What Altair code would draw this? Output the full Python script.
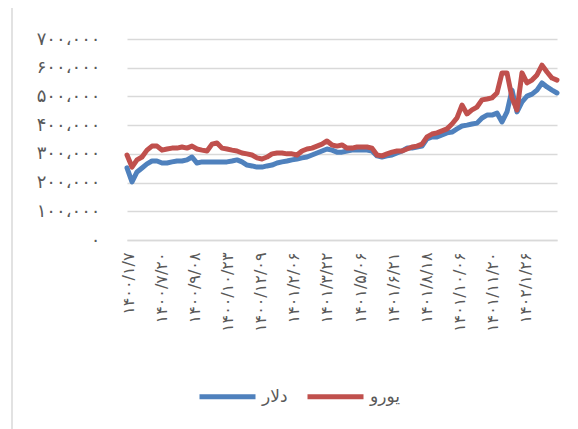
import json
import altair as alt
import pandas as pd

# sample day index (every 5 trading days)
days = [5 * i for i in range(87)]

dollar = [251, 202, 237, 251, 265, 275, 275, 268, 268, 272,
          275, 275, 279, 289, 268, 272, 272, 272, 272, 272,
          272, 275, 279, 272, 261, 258, 254, 254, 258, 261,
          268, 272, 275, 279, 282, 286, 289, 296, 303, 310,
          317, 313, 306, 306, 310, 313, 313, 313, 313, 310,
          293, 289, 293, 296, 303, 310, 320, 320, 324, 327,
          352, 359, 359, 366, 373, 376, 387, 397, 400, 404,
          407, 425, 435, 435, 442, 411, 446, 522, 446, 481,
          501, 508, 522, 547, 533, 522, 512]

euro = [296, 254, 279, 289, 313, 327, 327, 313, 317, 320,
        320, 324, 320, 327, 317, 313, 310, 334, 338, 320,
        317, 313, 310, 303, 300, 296, 286, 282, 289, 300,
        303, 303, 300, 300, 296, 310, 317, 320, 327, 334,
        345, 331, 327, 331, 320, 320, 324, 324, 324, 320,
        296, 293, 300, 306, 310, 310, 317, 324, 327, 334,
        359, 369, 373, 380, 387, 404, 425, 470, 439, 453,
        463, 488, 491, 495, 512, 582, 582, 495, 453, 582,
        547, 557, 575, 609, 585, 564, 557]

series_names = ["دلار", "یورو"]
series_colors = ["#4F81BD", "#C0504D"]

x_ticks = [1, 34, 67, 100, 133, 166, 199, 233, 266, 299, 332, 365, 398]
x_labels = ["۱۴۰۰/۱/۷", "۱۴۰۰/۷/۲۰", "۱۴۰۰/۹/۰۸", "۱۴۰۰/۱۰/۲۳", "۱۴۰۰/۱۲/۰۹",
            "۱۴۰۱/۲/۰۶", "۱۴۰۱/۳/۲۲", "۱۴۰۱/۵/۰۶", "۱۴۰۱/۶/۲۱", "۱۴۰۱/۸/۱۸",
            "۱۴۰۱/۱۰/۰۶", "۱۴۰۱/۱۱/۲۰", "۱۴۰۲/۱/۲۶"]

y_ticks = [0, 100000, 200000, 300000, 400000, 500000, 600000, 700000]
y_labels = ["۰", "۱۰۰،۰۰۰", "۲۰۰،۰۰۰", "۳۰۰،۰۰۰", "۴۰۰،۰۰۰",
            "۵۰۰،۰۰۰", "۶۰۰،۰۰۰", "۷۰۰،۰۰۰"]

rows = []
for name, vals in zip(series_names, [dollar, euro]):
    for d, v in zip(days, vals):
        rows.append({"day": d, "value": v * 1000, "series": name})
df = pd.DataFrame(rows)

FONT = "DejaVu Sans"
GRID = "#D9D9D9"
TXT = "#595959"

x_enc = alt.X("day:Q",
              scale=alt.Scale(domain=[0, 430], nice=False, zero=False),
              axis=alt.Axis(values=x_ticks, title=None, grid=False, ticks=False,
                            domainColor=GRID, domainWidth=1.5,
                            labelAngle=270, labelAlign="right", labelBaseline="middle",
                            labelPadding=12, labelFont=FONT, labelFontSize=16,
                            labelColor=TXT, labelOverlap=False, labelFlush=False,
                            labelExpr=json.dumps(x_labels, ensure_ascii=False)
                            + "[indexof(" + json.dumps(x_ticks) + ", datum.value)]"))
y_enc = alt.Y("value:Q",
              scale=alt.Scale(domain=[0, 700000], nice=False),
              axis=alt.Axis(values=y_ticks, title=None, grid=True, gridColor=GRID,
                            gridWidth=1.5, ticks=False, domain=False,
                            labelPadding=27, labelFont=FONT, labelFontSize=18,
                            labelColor=TXT,
                            labelExpr=json.dumps(y_labels, ensure_ascii=False)
                            + "[indexof(" + json.dumps(y_ticks) + ", datum.value)]"))
color_enc = alt.Color("series:N",
                      scale=alt.Scale(domain=series_names, range=series_colors),
                      legend=alt.Legend(title=None, orient="none", direction="horizontal",
                                        legendX=70, legendY=327,
                                        symbolType="stroke", symbolSize=3136,
                                        symbolStrokeWidth=5, labelFont=FONT,
                                        labelFontSize=17, labelColor=TXT,
                                        columnPadding=9, labelOffset=4))

layers = []
for name in series_names:
    layers.append(
        alt.Chart(df).transform_filter(alt.datum.series == name)
        .mark_line(strokeWidth=5, strokeCap="round", strokeJoin="round")
        .encode(x=x_enc, y=y_enc, color=color_enc)
    )

border = alt.Chart(pd.DataFrame({"a": [0]})).mark_rule(color=GRID, strokeWidth=1.5).encode(
    x=alt.value(-115), y=alt.value(-39), y2=alt.value(390))

chart = alt.layer(*layers, border).properties(
    width=430, height=201,
    padding={"left": 119, "top": 31, "right": 13, "bottom": 189},
    autosize=alt.AutoSizeParams(type="none"),
).configure_view(stroke=None)

chart.save("out.html", embed_options={"renderer": "svg", "actions": False})
